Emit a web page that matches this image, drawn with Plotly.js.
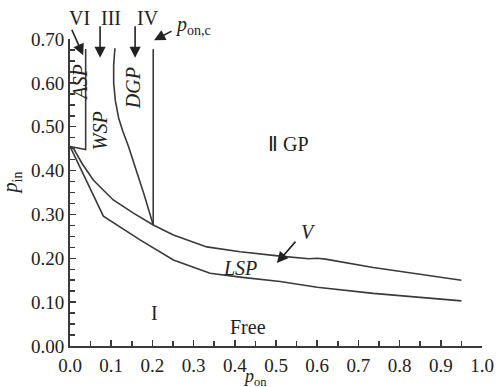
<!DOCTYPE html>
<html>
<head>
<meta charset="utf-8">
<script src="https://cdn.plot.ly/plotly-3.0.1.min.js"></script>
<style>html,body{margin:0;padding:0;background:#fff;}#chart{width:499px;height:387px;}</style>
</head>
<body>
<div id="chart"></div>
<script>
// GP / LSP upper boundary
var upperX = [0, 0.008, 0.03, 0.057, 0.105, 0.154, 0.202, 0.251, 0.332, 0.413, 0.51, 0.58, 0.60, 0.62, 0.736, 0.858, 0.95];
var upperY = [0.455, 0.451, 0.415, 0.378, 0.333, 0.303, 0.276, 0.253, 0.226, 0.215, 0.205, 0.199, 0.200, 0.198, 0.179, 0.162, 0.150];
// LSP lower boundary (Free boundary)
var lowerX = [0, 0.081, 0.17, 0.251, 0.34, 0.413, 0.51, 0.60, 0.736, 0.858, 0.95];
var lowerY = [0.455, 0.296, 0.242, 0.196, 0.166, 0.157, 0.147, 0.134, 0.120, 0.111, 0.103];
// DGP left boundary
var dgpX = [0.109, 0.106, 0.106, 0.110, 0.118, 0.128, 0.142, 0.160, 0.180, 0.202];
var dgpY = [0.679, 0.640, 0.600, 0.560, 0.520, 0.490, 0.455, 0.405, 0.345, 0.276];
// p_on,c vertical boundary
var poncX = [0.202, 0.202];
var poncY = [0.276, 0.677];
// ASP box edges
var aspX = [0, 0.038, 0.038];
var aspY = [0.455, 0.448, 0.677];

var xTicks = [0, 0.1, 0.2, 0.3, 0.4, 0.5, 0.6, 0.7, 0.8, 0.9, 1.0];
var yTicks = [0, 0.1, 0.2, 0.3, 0.4, 0.5, 0.6, 0.7];

var lineStyle = {color: '#3a3a3a', width: 1.6};
function tr(x, y) {
  return {x: x, y: y, mode: 'lines', line: lineStyle, hoverinfo: 'skip', showlegend: false, cliponaxis: false};
}
var data = [tr(upperX, upperY), tr(lowerX, lowerY), tr(dgpX, dgpY), tr(poncX, poncY), tr(aspX, aspY)];

var serif = '"Liberation Serif", "Times New Roman", serif';
var tf = {family: serif, size: 20, color: '#222'};
var tickf = {family: serif, size: 19, color: '#222'};
function lab(x, y, text, extra) {
  var a = {x: x, y: y, xref: 'x', yref: 'y', text: text, showarrow: false, font: tf};
  for (var k in extra) a[k] = extra[k];
  return a;
}
function plab(x, y, text, extra) {
  var a = {x: x, y: y, xref: 'paper', yref: 'paper', text: text, showarrow: false, font: tf};
  for (var k in extra) a[k] = extra[k];
  return a;
}
function arr(x, y, ax, ay) {
  return {x: x, y: y, xref: 'x', yref: 'y', text: '', showarrow: true, ax: ax, ay: ay,
          arrowhead: 2, arrowsize: 1.4, arrowwidth: 1.6, arrowcolor: '#222'};
}

var annotations = [
  plab(-0.007, 1.111, 'VI'),
  plab(0.070, 1.111, 'III'),
  plab(0.158, 1.111, 'IV'),
  plab(0.250, 1.091, '<i>p</i><sub>on,c</sub>', {xanchor: 'left'}),
  arr(0.032, 0.663, -12, -27),
  arr(0.073, 0.657, 0, -33),
  arr(0.158, 0.657, 0, -33),
  arr(0.204, 0.697, 19, -10),
  arr(0.502, 0.189, 20, -23),
  lab(0.024, 0.600, '<i>ASP</i>', {textangle: -90}),
  lab(0.073, 0.490, '<i>WSP</i>', {textangle: -90}),
  lab(0.152, 0.587, '<i>DGP</i>', {textangle: -90}),
  lab(0.53, 0.46, 'Ⅱ GP'),
  lab(0.578, 0.260, '<i>V</i>'),
  lab(0.413, 0.178, '<i>LSP</i>'),
  lab(0.206, 0.075, 'I'),
  lab(0.432, 0.043, 'Free'),
  plab(-0.175, 0.531, '<i>p</i><sub>in</sub>', {textangle: -90}),
  plab(0.449, -0.146, '<i>p</i><sub>on</sub>', {font: {family: serif, size: 18, color: '#222'}})
];

var axisCommon = {
  showline: true, linecolor: '#3a3a3a', linewidth: 2, showgrid: false, zeroline: false,
  ticks: 'inside', ticklen: 6, tickwidth: 1.5, tickcolor: '#3a3a3a',
  tickfont: tickf, fixedrange: true
};
var xaxis = Object.assign({}, axisCommon, {
  range: [0, 1], tickvals: xTicks, ticktext: xTicks.map(function(v){return v.toFixed(1);}),
  ticklabelstandoff: 1,
  minor: {dtick: 0.05, tick0: 0, ticks: 'inside', ticklen: 5, tickwidth: 1.5, tickcolor: '#3a3a3a'}
});
var yaxis = Object.assign({}, axisCommon, {
  range: [0, 0.70], tickvals: yTicks, ticktext: yTicks.map(function(v){return v.toFixed(2);}),
  minor: {dtick: 0.025, tick0: 0, ticks: 'inside', ticklen: 5, tickwidth: 1.5, tickcolor: '#3a3a3a'}
});

var layout = {
  width: 499, height: 387,
  margin: {l: 70, r: 17, t: 39, b: 41},
  paper_bgcolor: '#fff', plot_bgcolor: '#fff',
  xaxis: xaxis, yaxis: yaxis,
  annotations: annotations,
  showlegend: false
};
Plotly.newPlot('chart', data, layout, {displayModeBar: false, staticPlot: true});
</script>
</body>
</html>
